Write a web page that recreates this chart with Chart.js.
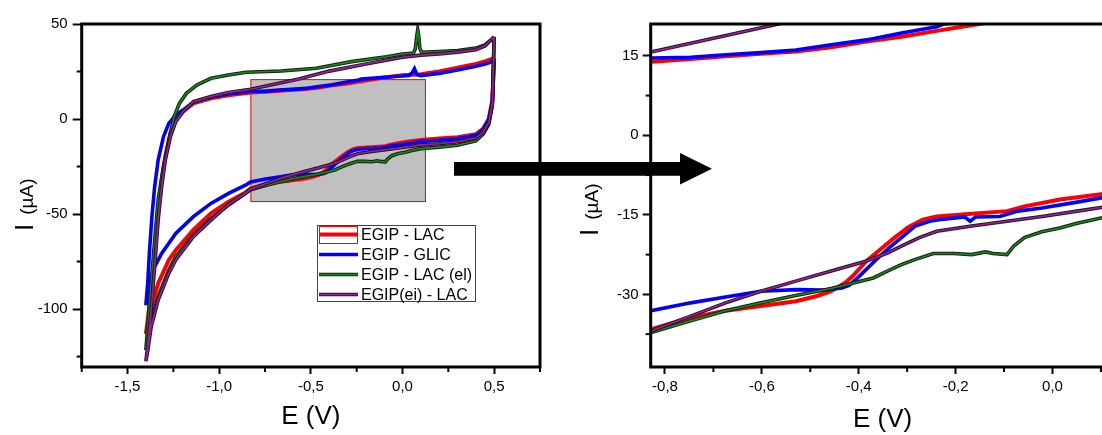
<!DOCTYPE html>
<html>
<head>
<meta charset="utf-8">
<script src="https://cdn.jsdelivr.net/npm/chart.js@4.4.0/dist/chart.umd.min.js"></script>
<style>
  html, body { margin: 0; padding: 0; background: #fff; overflow: hidden; }
  #wrap { position: relative; width: 1102px; height: 435px; overflow: hidden; background: #fff; }
  #left { position: absolute; left: 0; top: 0; }
  #right { position: absolute; left: 550px; top: 0; }
  .ylab { position: absolute; font-family: 'Liberation Sans', Arial, sans-serif; color: #000;
          white-space: nowrap; line-height: 26px; transform-origin: left top; transform: rotate(-90deg); }
  .ylab .big { font-size: 26px; }
  .ylab .small { font-size: 19px; margin-left: 9px; }
  #arrow { position: absolute; left: 0; top: 0; pointer-events: none; }
</style>
</head>
<body>
<div id="wrap">
  <canvas id="left" width="550" height="435"></canvas>
  <canvas id="right" width="600" height="435"></canvas>
  <div class="ylab" style="left:11px; top:231px;"><span class="big">I</span><span class="small">(µA)</span></div>
  <div class="ylab" style="left:576px; top:236px;"><span class="big">I</span><span class="small">(µA)</span></div>
  <svg id="arrow" width="1102" height="435">
    <polygon points="454,162 680,162 680,153 712,168.7 680,184.5 680,175.7 454,175.7" fill="#000"/>
  </svg>
</div>
<script>
var family = "'Liberation Sans', Arial, sans-serif";

var seriesNames = ["EGIP - LAC", "EGIP - GLIC", "EGIP - LAC (el)", "EGIP(ei) - LAC"];

// EGIP - LAC (red): upper branch from 0.5 V to -1.4 V, then lower branch back
var lacE = [0.5, 0.45, 0.4, 0.3, 0.2, 0.1, 0.0, -0.1, -0.152, -0.239, -0.312, -0.384, -0.457, -0.53, -0.602,
  -0.675, -0.747, -0.829, -0.95, -1.045, -1.141, -1.198, -1.237, -1.266, -1.294, -1.314, -1.333, -1.352,
  -1.371, -1.39, -1.4,
  -1.39, -1.371, -1.333, -1.275, -1.237, -1.141, -1.045, -0.949, -0.854, -0.829, -0.747, -0.675, -0.602,
  -0.53, -0.486, -0.457, -0.428, -0.413, -0.384, -0.355, -0.326, -0.297, -0.268, -0.239, -0.167, -0.094,
  -0.058, 0.015, 0.1, 0.2, 0.3, 0.4, 0.44, 0.47, 0.49, 0.5];
var lacI = [32, 30.3, 29, 27, 25, 23.6, 23, 21.8, 21.0, 19.7, 18.6, 17.7, 16.6, 15.8, 15.4,
  14.9, 14.4, 13.9, 12.5, 10.9, 8.2, 3.9, -0.5, -7.5, -19.8, -32.1, -49.6, -70.7,
  -90, -105.8, -113,
  -109, -99, -86.5, -74.2, -69, -58.4, -49.6, -43.5, -38.5, -36.6, -34.4, -33.1, -32.2,
  -31.3, -30.3, -29.4, -27.8, -26.6, -23.7, -21.5, -19.3, -17.3, -15.9, -15.3, -14.8, -14.3,
  -13.4, -12.1, -11.1, -10.3, -9.6, -8, -5, 0, 10, 32];

// EGIP - GLIC (blue)
var glicE = [0.5, 0.45, 0.4, 0.3, 0.2, 0.1, 0.078, 0.065, 0.052, 0.035, 0.0, -0.1, -0.2245, -0.239, -0.312,
  -0.384, -0.457, -0.53, -0.602, -0.675, -0.747, -0.829, -0.95, -1.045, -1.141, -1.198, -1.237, -1.275,
  -1.304, -1.333, -1.352, -1.367, -1.381, -1.39, -1.4,
  -1.381, -1.352, -1.314, -1.237, -1.141, -1.045, -0.949, -0.854, -0.829, -0.747, -0.675, -0.602, -0.53,
  -0.471, -0.435, -0.42, -0.399, -0.37, -0.341, -0.312, -0.283, -0.254, -0.225, -0.181, -0.17, -0.159,
  -0.109, -0.094, -0.072, -0.022, 0.051, 0.1, 0.2, 0.3, 0.4, 0.44, 0.47, 0.49, 0.5];
var glicI = [30.5, 29, 27.8, 25.8, 24, 22.8, 23.4, 26.5, 24.2, 22.9, 22.6, 22, 21, 20.5, 19.3,
  18.0, 17.1, 16.1, 15.6, 15.2, 14.7, 14.6, 13.2, 11.6, 8.8, 4.7, 2.1, -2.3,
  -9.3, -21.6, -35.6, -51.4, -70.7, -86.5, -98,
  -86.5, -77.7, -70.7, -60.2, -51.4, -44.4, -39.1, -34.7, -33.1, -31.6, -30.5, -29.4, -29.1,
  -29.2, -28.8, -28.3, -26.6, -24.0, -21.5, -19.3, -17.1, -16.2, -15.8, -15.4, -16.2, -15.4,
  -15.3, -14.9, -14.3, -13.7, -12.6, -11.8, -11.2, -10.4, -8.5, -5.5, -0.5, 9, 30.5];

// EGIP - LAC (el) (green)
var elE = [0.5, 0.45, 0.4, 0.3, 0.2, 0.105, 0.095, 0.088, 0.083, 0.077, 0.07, 0.06, 0.0, -0.087, -0.278,
  -0.47, -0.662, -0.854, -0.949, -1.045, -1.122, -1.179, -1.217, -1.246, -1.275, -1.304, -1.333, -1.352,
  -1.371, -1.39, -1.4,
  -1.39, -1.371, -1.333, -1.275, -1.237, -1.141, -1.045, -0.949, -0.854, -0.829, -0.747, -0.675, -0.602,
  -0.53, -0.457, -0.413, -0.37, -0.341, -0.312, -0.283, -0.246, -0.203, -0.167, -0.138, -0.123, -0.094,
  -0.08, -0.058, -0.022, 0.015, 0.051, 0.1, 0.2, 0.3, 0.4, 0.44, 0.47, 0.49, 0.5];
var elI = [43, 39, 37.3, 36, 35.5, 35.1, 37, 44, 47, 43, 37, 34.7, 34.2, 32.8, 30.2,
  26.7, 25.3, 24.6, 23.2, 21.4, 17.9, 13.5, 8.2, 1.2, -11, -25, -42.6, -63.7,
  -86.5, -109.3, -121.6,
  -116, -105.8, -93.5, -79.5, -72.5, -61, -52.3, -45.3, -39, -37.2, -35, -33.1, -31.6,
  -30.2, -28.9, -27.9, -26.9, -25.6, -24.4, -23.4, -22.3, -22.3, -22.5, -22.0, -22.3, -22.5,
  -20.9, -19.3, -18.2, -17.5, -16.6, -15.6, -14.8, -13.8, -11.5, -8, -3, 7, 43];

// EGIP(ei) - LAC (purple)
var eiE = [0.5, 0.45, 0.4, 0.3, 0.2, 0.1, 0.0, -0.2, -0.4, -0.566, -0.7, -0.829, -0.95, -1.045, -1.141,
  -1.198, -1.237, -1.266, -1.294, -1.314, -1.333, -1.352, -1.371, -1.39, -1.4,
  -1.39, -1.371, -1.333, -1.275, -1.237, -1.141, -1.045, -0.949, -0.854, -0.829, -0.747, -0.675, -0.602,
  -0.53, -0.457, -0.384, -0.341, -0.312, -0.275, -0.239, -0.167, -0.094, -0.022, 0.051, 0.1, 0.2, 0.3,
  0.4, 0.44, 0.47, 0.49, 0.5];
var eiI = [43.3, 38.5, 36.5, 35.2, 34.3, 33.6, 32.5, 29, 25.2, 21, 18.3, 15.7, 14, 11.8, 9.1,
  3.9, -1.4, -9.3, -21.6, -35.6, -53.2, -77.7, -100.5, -119.8, -127.5,
  -122, -109.3, -95.3, -81.2, -74.2, -61.9, -53.2, -45, -38.8, -36.9, -34.1, -31.6, -29.4,
  -27.5, -25.6, -23.7, -22.2, -20.9, -19.3, -18.1, -17.1, -16.2, -15.3, -14.3, -13.6, -13, -12,
  -10, -7, -2, 8, 43.3];

// axes
var leftXRange = [-1.75, 0.75];
var leftYRange = [-130.5, 50];
var zoomXRange = [-0.8295, 0.128];
var zoomYRange = [-43.7, 21];

var leftXTicks = [-1.5, -1.0, -0.5, 0.0, 0.5];
var leftXLabels = ["-1,5", "-1,0", "-0,5", "0,0", "0,5"];
var leftXMinor = [-1.75, -1.25, -0.75, -0.25, 0.25, 0.75];
var leftYTicks = [50, 0, -50, -100];
var leftYLabels = ["50", "0", "-50", "-100"];
var leftYMinor = [25, -25, -75, -125];

var rightXTicks = [-0.8, -0.6, -0.4, -0.2, 0.0];
var rightXLabels = ["-0,8", "-0,6", "-0,4", "-0,2", "0,0"];
var rightXMinor = [-0.7, -0.5, -0.3, -0.1, 0.1];
var rightYTicks = [15, 0, -15, -30];
var rightYLabels = ["15", "0", "-15", "-30"];
var rightYMinor = [7.5, -7.5, -22.5, -37.5];

function pts(E, I) {
  return E.map(function (e, k) { return { x: e, y: I[k] }; });
}

function buildDatasets() {
  var line = function (data, color, width, order) {
    return { data: data, borderColor: color, borderWidth: width, showLine: true, pointRadius: 0,
             tension: 0, fill: false, clip: 0, order: order };
  };
  return [
    line(pts(lacE, lacI), "#ff0000", 4, 10),
    line(pts(glicE, glicI), "#0000ff", 3.6, 8),
    line(pts(elE, elI), "#1a1a1a", 3.6, 7),
    line(pts(elE, elI), "#0f8f0f", 1.6, 6),
    line(pts(eiE, eiI), "#1a1a1a", 3.6, 5),
    line(pts(eiE, eiI), "#a318a3", 1.6, 4)
  ];
}

function axis(range, ticks, labels, isX, fit, tickLen, pad, titlePad) {
  return {
    type: "linear",
    position: isX ? "bottom" : "left",
    min: range[0],
    max: range[1],
    afterBuildTicks: function (s) { s.ticks = ticks.map(function (v) { return { value: v }; }); },
    afterFit: function (s) { if (isX) s.height = fit; else s.width = fit; },
    grid: { display: true, drawOnChartArea: false, drawTicks: true, tickLength: tickLen, tickWidth: 2, tickColor: "#000" },
    border: { display: false },
    ticks: {
      color: "#000", font: { family: family, size: 15 }, padding: pad,
      autoSkip: false, maxRotation: 0,
      callback: function (v, i) { return labels[i]; }
    },
    title: isX ? { display: true, text: "E (V)", color: "#000", font: { family: family, size: 26 },
                   padding: { top: 0, bottom: titlePad } } : { display: false }
  };
}

var framePlugin = {
  id: "frame",
  beforeDatasetsDraw: function (chart) {
    var z = chart.options.plugins.frame.zoomBox;
    if (!z) return;
    var xs = chart.scales.x, ys = chart.scales.y, ctx = chart.ctx;
    var x1 = xs.getPixelForValue(z.x[0]), x2 = xs.getPixelForValue(z.x[1]);
    var y1 = ys.getPixelForValue(z.y[1]), y2 = ys.getPixelForValue(z.y[0]);
    ctx.save();
    ctx.fillStyle = "#c0c0c0";
    ctx.fillRect(x1, y1, x2 - x1, y2 - y1);
    ctx.strokeStyle = "#ff0000";
    ctx.lineWidth = 1;
    ctx.strokeRect(x1 + 0.5, y1 + 0.5, x2 - x1 - 1, y2 - y1 - 1);
    ctx.restore();
  },
  afterDatasetsDraw: function (chart) {
    var a = chart.chartArea, ctx = chart.ctx, o = chart.options.plugins.frame;
    ctx.save();
    ctx.strokeStyle = "#000";
    ctx.lineWidth = 2;
    o.minorX.forEach(function (v) {
      var px = chart.scales.x.getPixelForValue(v);
      ctx.beginPath(); ctx.moveTo(px, a.bottom); ctx.lineTo(px, a.bottom + 5); ctx.stroke();
    });
    o.minorY.forEach(function (v) {
      var py = chart.scales.y.getPixelForValue(v);
      ctx.beginPath(); ctx.moveTo(a.left, py); ctx.lineTo(a.left - 5, py); ctx.stroke();
    });
    ctx.lineWidth = 3;
    ctx.strokeRect(a.left, a.top, a.right - a.left, a.bottom - a.top);
    ctx.restore();
  }
};

var legendPlugin = {
  id: "cvLegend",
  afterDraw: function (chart) {
    var o = chart.options.plugins.cvLegend;
    if (!o || !o.show) return;
    var ctx = chart.ctx;
    ctx.save();
    ctx.fillStyle = "#fff";
    ctx.fillRect(317, 225, 159, 77);
    ctx.strokeStyle = "#444";
    ctx.lineWidth = 1;
    ctx.strokeRect(317.5, 225.5, 158, 76);
    var styles = [
      [["#ff0000", 4]],
      [["#0000ff", 3.6]],
      [["#1a1a1a", 3.6], ["#0f8f0f", 1.6]],
      [["#1a1a1a", 3.6], ["#a318a3", 1.6]]
    ];
    ctx.font = "16px " + family;
    ctx.textBaseline = "middle";
    seriesNames.forEach(function (name, i) {
      var y = 234.5 + i * 20;
      styles[i].forEach(function (s) {
        ctx.strokeStyle = s[0];
        ctx.lineWidth = s[1];
        ctx.beginPath(); ctx.moveTo(319, y); ctx.lineTo(358, y); ctx.stroke();
      });
      ctx.fillStyle = "#000";
      ctx.fillText(name, 361, y + 1);
    });
    ctx.strokeStyle = "#ff0000";
    ctx.lineWidth = 1;
    ctx.strokeRect(319.5, 226.5, 38, 17);
    ctx.restore();
  }
};

function makeChart(id, cfg) {
  return new Chart(document.getElementById(id), {
    type: "scatter",
    data: { datasets: buildDatasets() },
    options: {
      responsive: false,
      devicePixelRatio: 1,
      animation: false,
      events: [],
      layout: { padding: cfg.padding },
      scales: { x: cfg.x, y: cfg.y },
      plugins: {
        legend: { display: false },
        tooltip: { enabled: false },
        frame: { zoomBox: cfg.zoomBox, minorX: cfg.minorX, minorY: cfg.minorY },
        cvLegend: { show: cfg.legend }
      }
    },
    plugins: [framePlugin, legendPlugin]
  });
}

makeChart("left", {
  padding: { top: 24, right: 10, bottom: 0, left: 0 },
  x: axis(leftXRange, leftXTicks, leftXLabels, true, 68, 7, 4, 3),
  y: axis(leftYRange, leftYTicks, leftYLabels, false, 81.7, 9, 5),
  zoomBox: { x: zoomXRange, y: zoomYRange },
  minorX: leftXMinor,
  minorY: leftYMinor,
  legend: true
});

makeChart("right", {
  padding: { top: 24, right: 35.5, bottom: 0, left: 0 },
  x: axis(zoomXRange, rightXTicks, rightXLabels, true, 68, 7, 4, 0),
  y: axis(zoomYRange, rightYTicks, rightYLabels, false, 100.7, 8, 4),
  zoomBox: null,
  minorX: rightXMinor,
  minorY: rightYMinor,
  legend: false
});
</script>
</body>
</html>
